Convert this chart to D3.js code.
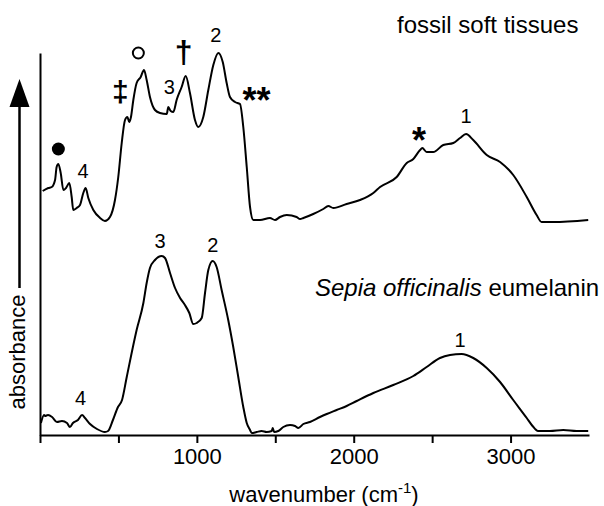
<!DOCTYPE html>
<html>
<head>
<meta charset="utf-8">
<script src="https://cdn.jsdelivr.net/npm/d3@7"></script>
<style>
  html, body { margin: 0; padding: 0; background: #fff; }
  svg { display: block; font-family: "Liberation Sans", Arial, sans-serif; }
</style>
</head>
<body>
<svg id="chart" width="604" height="506"></svg>
<script>
// ---------- DATA ----------
// Sepia officinalis eumelanin spectrum: wavenumber (cm-1), absorbance (a.u.)
const sepiaWavenumber = [6, 26, 32, 51, 77, 108, 140, 172, 191, 210, 242, 268, 287, 319, 363, 414, 434, 465, 497, 523, 553, 616, 659, 680, 701, 733, 776, 797, 829, 861, 893, 924, 952, 977, 999, 1031, 1052, 1073, 1101, 1126, 1158, 1200, 1232, 1264, 1296, 1318, 1339, 1350, 1381, 1413, 1445, 1477, 1484, 1492, 1519, 1551, 1594, 1626, 1647, 1679, 1721, 1785, 1828, 1891, 1955, 2019, 2125, 2252, 2380, 2465, 2550, 2614, 2688, 2762, 2848, 2933, 3017, 3103, 3140, 3175, 3251, 3336, 3421, 3495];
const sepiaAbsorbance = [0.12, 0.20, 0.19, 0.20, 0.18, 0.13, 0.14, 0.12, 0.08, 0.12, 0.15, 0.20, 0.17, 0.11, 0.06, 0.03, 0.04, 0.15, 0.28, 0.35, 0.58, 1.05, 1.32, 1.52, 1.67, 1.75, 1.79, 1.77, 1.62, 1.47, 1.37, 1.30, 1.22, 1.11, 1.12, 1.17, 1.42, 1.65, 1.74, 1.68, 1.45, 1.15, 0.88, 0.58, 0.28, 0.12, 0.05, 0.02, 0.03, 0.04, 0.03, 0.04, 0.07, 0.03, 0.04, 0.08, 0.10, 0.09, 0.07, 0.11, 0.13, 0.18, 0.21, 0.25, 0.29, 0.34, 0.42, 0.50, 0.59, 0.68, 0.77, 0.80, 0.81, 0.77, 0.67, 0.53, 0.35, 0.17, 0.09, 0.04, 0.04, 0.05, 0.04, 0.04];

// Fossil soft tissues spectrum: wavenumber (cm-1), absorbance (a.u.)
const fossilWavenumber = [17, 53, 75, 96, 106, 117, 132, 149, 166, 187, 202, 212, 234, 255, 276, 291, 308, 340, 383, 414, 446, 478, 499, 521, 542, 557, 569, 580, 595, 616, 642, 663, 680, 701, 733, 765, 808, 818, 833, 850, 871, 903, 929, 956, 988, 1009, 1041, 1073, 1105, 1137, 1165, 1190, 1211, 1243, 1275, 1296, 1318, 1339, 1360, 1403, 1466, 1498, 1530, 1573, 1636, 1658, 1679, 1742, 1806, 1838, 1870, 1955, 2040, 2125, 2168, 2274, 2338, 2380, 2423, 2437, 2465, 2507, 2571, 2635, 2678, 2716, 2762, 2848, 2933, 3017, 3103, 3166, 3198, 3272, 3495];
const fossilAbsorbance = [0.34, 0.37, 0.38, 0.45, 0.58, 0.61, 0.52, 0.35, 0.37, 0.42, 0.28, 0.15, 0.17, 0.20, 0.32, 0.37, 0.27, 0.15, 0.07, 0.04, 0.08, 0.25, 0.48, 0.82, 1.05, 1.08, 1.03, 1.08, 1.25, 1.42, 1.48, 1.55, 1.45, 1.28, 1.15, 1.12, 1.11, 1.18, 1.14, 1.13, 1.25, 1.38, 1.49, 1.32, 1.05, 0.98, 1.08, 1.35, 1.60, 1.72, 1.63, 1.42, 1.28, 1.23, 1.21, 0.98, 0.58, 0.18, 0.05, 0.05, 0.07, 0.05, 0.08, 0.10, 0.08, 0.06, 0.07, 0.11, 0.16, 0.19, 0.17, 0.21, 0.25, 0.32, 0.38, 0.48, 0.62, 0.66, 0.75, 0.77, 0.73, 0.73, 0.80, 0.82, 0.87, 0.91, 0.85, 0.70, 0.63, 0.50, 0.28, 0.10, 0.03, 0.03, 0.05];

// vertical stacking offsets of the two traces
const traceNames = ["Sepia officinalis eumelanin", "fossil soft tissues"];
const traceOffsets = [0, 2.1];

// axis ticks
const xTickValues = [0, 500, 1000, 1500, 2000, 2500, 3000];
const xTickLabels = ["", "", "1000", "", "2000", "", "3000"];

// band annotations: text, wavenumber, absorbance level (text baseline)
const bandText = ["4", "3", "2", "1", "3", "2", "4", "1", "\u2021", "\u2020", "**", "*"];
const bandWavenumber = [274, 825, 1121, 2716, 765, 1101, 259, 2678, 513, 916, 1381, 2416];
const bandLevel = [2.57, 3.41, 3.93, 3.12, 1.87, 1.83, 0.30, 0.88, 3.33, 3.72, 3.22, 2.82];
const markerType = ["filled", "open"];
const markerWavenumber = [117, 627];
const markerLevel = [2.86, 3.82];

// trace titles
const titleWavenumber = [1753, 2276];
const titleLevel = [1.39, 4.02];

// ---------- CHART ----------
const svg = d3.select("#chart");
const x = d3.scaleLinear().domain([0, 3500]).range([40, 589]);
const y = d3.scaleLinear().domain([0, 3.82]).range([435, 53]);

const line = d3.line()
  .x(d => x(d[0]))
  .y(d => y(d[1]))
  .curve(d3.curveMonotoneX);

const traces = [
  d3.zip(sepiaWavenumber, sepiaAbsorbance.map(v => v + traceOffsets[0])),
  d3.zip(fossilWavenumber, fossilAbsorbance.map(v => v + traceOffsets[1]))
];

svg.selectAll("path.trace")
  .data(traces)
  .join("path")
  .attr("class", "trace")
  .attr("d", line)
  .attr("fill", "none")
  .attr("stroke", "#000")
  .attr("stroke-width", 2)
  .attr("stroke-linejoin", "round");

// x axis
const xAxis = d3.axisBottom(x)
  .tickValues(xTickValues)
  .tickFormat((d, i) => xTickLabels[i])
  .tickSize(8)
  .tickSizeOuter(0)
  .tickPadding(5);
const gx = svg.append("g").attr("transform", `translate(0,${y(0)})`).call(xAxis);
gx.select(".domain").attr("stroke-width", 2);
gx.selectAll(".tick line").attr("stroke-width", 2);
gx.selectAll(".tick text")
  .attr("font-size", 22)
  .attr("font-family", "Liberation Sans, Arial, sans-serif")
  .attr("fill", "#000");

// y axis (no ticks)
const gy = svg.append("g").attr("transform", `translate(${x(0)},0)`)
  .call(d3.axisLeft(y).tickValues([]).tickSizeOuter(0));
gy.select(".domain").attr("stroke-width", 2);

// x axis title
const xt = svg.append("text")
  .attr("x", 324)
  .attr("y", 502)
  .attr("text-anchor", "middle")
  .attr("font-size", 22)
  .attr("fill", "#000");
xt.append("tspan").text("wavenumber (cm");
xt.append("tspan").attr("font-size", 15).attr("dy", -9).text("-1");
xt.append("tspan").attr("dy", 9).text(")");

// y axis title with arrow
svg.append("text")
  .attr("transform", "translate(25,352) rotate(-90)")
  .attr("text-anchor", "middle")
  .attr("font-size", 22)
  .attr("fill", "#000")
  .text("absorbance");
svg.append("line")
  .attr("x1", 19.5).attr("x2", 19.5)
  .attr("y1", 288).attr("y2", 104)
  .attr("stroke", "#000").attr("stroke-width", 2.5);
svg.append("path")
  .attr("d", "M19.5,79 L29.5,107 L9.5,107 Z")
  .attr("fill", "#000");

// trace titles
svg.append("text")
  .attr("x", x(titleWavenumber[1])).attr("y", y(titleLevel[1]))
  .attr("font-size", 24).attr("fill", "#000")
  .text(traceNames[1]);
const st = svg.append("text")
  .attr("x", x(titleWavenumber[0])).attr("y", y(titleLevel[0]))
  .attr("font-size", 24).attr("fill", "#000");
st.append("tspan").attr("font-style", "italic").text("Sepia officinalis");
st.append("tspan").text(" eumelanin");

// band labels
const labelStyle = t => {
  if (t === "\u2021") return { size: 30, weight: "bold" };
  if (t === "\u2020") return { size: 32, weight: "bold" };
  if (t.startsWith("*")) return { size: 36, weight: "bold" };
  return { size: 20, weight: "normal" };
};
svg.selectAll("text.band")
  .data(d3.range(bandText.length))
  .join("text")
  .attr("class", "band")
  .attr("x", i => x(bandWavenumber[i]))
  .attr("y", i => y(bandLevel[i]))
  .attr("text-anchor", "middle")
  .attr("font-size", i => labelStyle(bandText[i]).size)
  .attr("font-weight", i => labelStyle(bandText[i]).weight)
  .attr("fill", "#000")
  .text(i => bandText[i]);

// circle markers
svg.selectAll("circle.marker")
  .data(d3.range(markerType.length))
  .join("circle")
  .attr("class", "marker")
  .attr("cx", i => x(markerWavenumber[i]))
  .attr("cy", i => y(markerLevel[i]))
  .attr("r", i => markerType[i] === "filled" ? 6.5 : 5.5)
  .attr("fill", i => markerType[i] === "filled" ? "#000" : "none")
  .attr("stroke", "#000")
  .attr("stroke-width", i => markerType[i] === "filled" ? 0 : 2);
</script>
</body>
</html>
